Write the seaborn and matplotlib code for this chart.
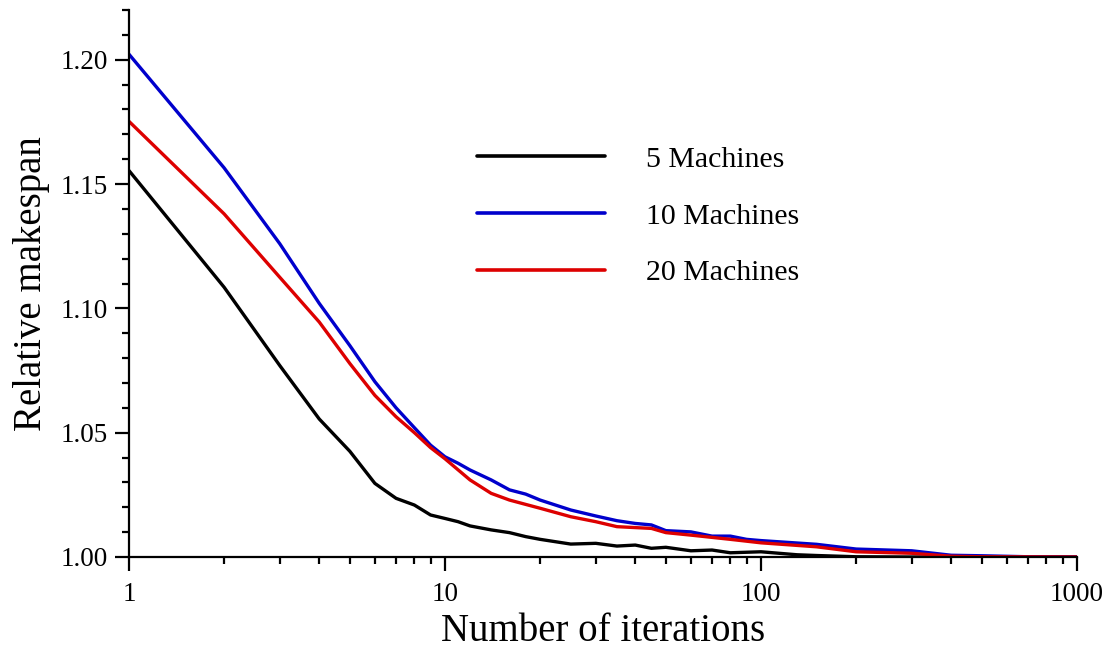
import numpy as np
import pandas as pd
import matplotlib
matplotlib.use("Agg")
import matplotlib.pyplot as plt
import matplotlib.ticker as mticker
import seaborn as sns

# ---- data ----
x5 = [1, 2, 3, 4, 5, 6, 7, 8, 9, 10, 11, 12, 14, 16, 18, 20, 25, 30, 35, 40, 45, 50,
      60, 70, 80, 100, 130, 150, 200, 300, 500, 1000]
y5 = [1.1554, 1.1085, 1.0770, 1.0555, 1.0425, 1.0296, 1.0236, 1.0209, 1.0169, 1.0155,
      1.0142, 1.0125, 1.0109, 1.0098, 1.0082, 1.0071, 1.0052, 1.0055, 1.0044, 1.0048,
      1.0035, 1.0039, 1.0025, 1.0028, 1.0017, 1.0021, 1.0009, 1.0006, 1.0001, 1.0000,
      1.0000, 1.0000]

x10 = [1, 2, 3, 4, 5, 6, 7, 8, 9, 10, 11, 12, 14, 16, 18, 20, 25, 30, 35, 40, 45, 50,
       60, 70, 80, 90, 100, 150, 200, 300, 400, 500, 700, 1000]
y10 = [1.2022, 1.1565, 1.1260, 1.1020, 1.0850, 1.0705, 1.0600, 1.0520, 1.0450, 1.0403,
       1.0377, 1.0350, 1.0310, 1.0270, 1.0253, 1.0229, 1.0189, 1.0165, 1.0146, 1.0135,
       1.0129, 1.0106, 1.0101, 1.0084, 1.0084, 1.0071, 1.0066, 1.0051, 1.0032, 1.0025,
       1.0007, 1.0005, 1.0001, 1.0000]

x20 = [1, 2, 3, 4, 5, 6, 7, 8, 9, 10, 12, 14, 16, 20, 25, 30, 35, 45, 50, 60, 80, 100,
       150, 200, 300, 400, 500, 1000]
y20 = [1.1752, 1.1380, 1.1125, 1.0945, 1.0778, 1.0650, 1.0564, 1.0500, 1.0440, 1.0395,
       1.0310, 1.0256, 1.0229, 1.0196, 1.0162, 1.0142, 1.0122, 1.0115, 1.0098, 1.0088,
       1.0071, 1.0057, 1.0041, 1.0021, 1.0015, 1.0003, 1.0001, 1.0000]

labels = ["5 Machines", "10 Machines", "20 Machines"]
colors = ["#000000", "#0000cc", "#dd0000"]
xticks = [1, 10, 100, 1000]
yticks = [1.00, 1.05, 1.10, 1.15, 1.20]

df = pd.concat([
    pd.DataFrame({"iterations": x5, "makespan": y5, "series": labels[0]}),
    pd.DataFrame({"iterations": x10, "makespan": y10, "series": labels[1]}),
    pd.DataFrame({"iterations": x20, "makespan": y20, "series": labels[2]}),
], ignore_index=True)

sns.set_theme(style="ticks")
plt.rcParams["font.family"] = ["Liberation Serif", "DejaVu Serif"]
for k in ["text.color", "axes.labelcolor", "xtick.color", "ytick.color", "axes.edgecolor"]:
    plt.rcParams[k] = "black"

fig = plt.figure(figsize=(11.19, 6.51), dpi=100)
ax = fig.add_axes([129 / 1119, 1 - 557 / 651, (1077 - 129) / 1119, (557 - 10) / 651])

sns.lineplot(data=df, x="iterations", y="makespan", hue="series", hue_order=labels,
             palette=dict(zip(labels, colors)), estimator=None, sort=True,
             linewidth=2.4, ax=ax, legend=False)

ax.set_xscale("log")
ax.set_xlim(1, 1000)
ax.set_ylim(1.0, 1.22)
ax.set_xticks(xticks)
ax.xaxis.set_major_formatter(mticker.FixedFormatter([str(t) for t in xticks]))
ax.xaxis.set_minor_locator(mticker.LogLocator(base=10, subs=np.arange(2, 10)))
ax.xaxis.set_minor_formatter(mticker.NullFormatter())
ax.set_yticks(yticks)
ax.yaxis.set_major_formatter(mticker.FormatStrFormatter("%.2f"))
ax.yaxis.set_minor_locator(mticker.MultipleLocator(0.01))

for s in ["top", "right"]:
    ax.spines[s].set_visible(False)
for s in ["left", "bottom"]:
    ax.spines[s].set_linewidth(1.6)
    ax.spines[s].set_color("black")

ax.tick_params(axis="both", which="major", direction="out", length=10, width=1.6,
               colors="black", labelsize=19.5)
ax.tick_params(axis="both", which="minor", direction="out", length=5, width=1.6,
               colors="black")
ax.tick_params(axis="y", which="major", pad=5)
ax.tick_params(axis="x", which="major", pad=8)

ax.set_xlabel("Number of iterations", fontsize=28, labelpad=4)
ax.set_ylabel("Relative makespan", fontsize=28, labelpad=8)

handles = [plt.Line2D([], [], color=c, linewidth=2.6) for c in colors]
fig.legend(handles, labels, loc="upper left", bbox_to_anchor=(450 / 1119, 1 - 119 / 651),
           frameon=False, fontsize=21.5, handlelength=4.28, handletextpad=1.37,
           labelspacing=1.0)

fig.savefig("out.png", dpi=100, facecolor="white")
